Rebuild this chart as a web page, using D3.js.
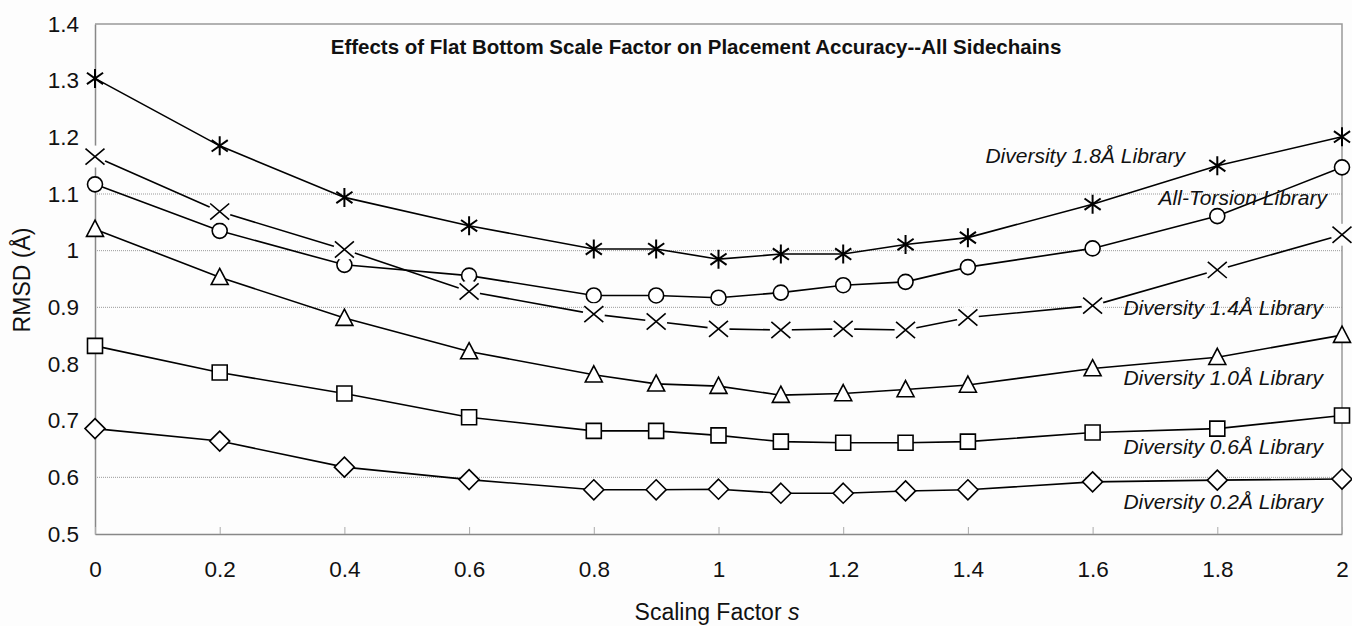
<!DOCTYPE html>
<html>
<head>
<meta charset="utf-8">
<script src="https://cdn.jsdelivr.net/npm/d3@7"></script>
<style>
    body { margin: 0; background: #fdfdfd; }
    text { font-family: "Liberation Sans", Arial, sans-serif; fill: #111; }
</style>
</head>
<body>
<div id="chart"></div>
<script>
// scaling factor s
const scaleFactors = [0, 0.2, 0.4, 0.6, 0.8, 0.9, 1.0, 1.1, 1.2, 1.3, 1.4, 1.6, 1.8, 2.0]

// RMSD (Å) per library
const diversity18 = [1.304, 1.185, 1.094, 1.044, 1.003, 1.003, 0.985, 0.994, 0.994, 1.011, 1.023, 1.082, 1.150, 1.201]
const allTorsion  = [1.117, 1.035, 0.975, 0.956, 0.921, 0.921, 0.917, 0.926, 0.939, 0.945, 0.971, 1.004, 1.061, 1.147]
const diversity14 = [1.166, 1.069, 1.002, 0.928, 0.888, 0.875, 0.862, 0.860, 0.862, 0.860, 0.882, 0.903, 0.966, 1.028]
const diversity10 = [1.038, 0.953, 0.881, 0.822, 0.781, 0.765, 0.761, 0.745, 0.748, 0.755, 0.763, 0.792, 0.812, 0.851]
const diversity06 = [0.832, 0.785, 0.748, 0.706, 0.682, 0.682, 0.674, 0.663, 0.661, 0.661, 0.663, 0.679, 0.686, 0.709]
const diversity02 = [0.686, 0.664, 0.618, 0.596, 0.578, 0.578, 0.579, 0.572, 0.572, 0.576, 0.578, 0.592, 0.595, 0.597]

const seriesNames = ["Diversity 1.8Å Library", "All-Torsion Library", "Diversity 1.4Å Library",
                     "Diversity 1.0Å Library", "Diversity 0.6Å Library", "Diversity 0.2Å Library"]

const xTicks = [0, 0.2, 0.4, 0.6, 0.8, 1, 1.2, 1.4, 1.6, 1.8, 2]
const yTicks = [0.5, 0.6, 0.7, 0.8, 0.9, 1, 1.1, 1.2, 1.3, 1.4]
const gridValues = [0.6, 0.9, 1.0, 1.1]

const title = "Effects of Flat Bottom Scale Factor on Placement Accuracy--All Sidechains"

let width = 1352, height = 626
let margin = {top: 24, right: 10, bottom: 92, left: 95}

let svg = d3.select("#chart")
    .append("svg")
    .attr("width", width)
    .attr("height", height)

svg.append("rect")
    .attr("width", width)
    .attr("height", height)
    .attr("fill", "#fdfdfd")

const x = d3.scaleLinear()
    .domain([0, 2])
    .range([margin.left, width - margin.right])

const y = d3.scaleLinear()
    .domain([0.5, 1.4])
    .range([height - margin.bottom, margin.top])

// dotted grid lines
svg.selectAll(".grid")
    .data(gridValues)
    .join("line")
    .attr("class", "grid")
    .attr("x1", x(0)).attr("x2", x(2))
    .attr("y1", d => y(d)).attr("y2", d => y(d))
    .attr("stroke", "#999")
    .attr("stroke-width", 1)
    .attr("stroke-dasharray", "1,1")

// frame top and right
svg.append("path")
    .attr("d", `M${x(0)},${y(1.4)}H${x(2)}V${y(0.5)}`)
    .attr("fill", "none")
    .attr("stroke", "#999")
    .attr("stroke-width", 1.5)

const fmt = d => String(+d.toFixed(1))

let yAxis = svg.append("g")
    .attr("transform", `translate(${x(0)},0)`)
    .call(d3.axisLeft(y).tickValues(yTicks).tickFormat(fmt).tickSize(0).tickPadding(16))
yAxis.select(".domain").attr("stroke", "#888").attr("stroke-width", 1.5)
yAxis.selectAll("text").style("font-size", "22.5px").attr("fill", "#111")

let xAxis = svg.append("g")
    .attr("transform", `translate(0,${y(0.5)})`)
    .call(d3.axisBottom(x).tickValues(xTicks).tickFormat(fmt).tickSizeInner(-7).tickSizeOuter(0).tickPadding(27))
xAxis.select(".domain").attr("stroke", "#888").attr("stroke-width", 1.5)
xAxis.selectAll(".tick line").attr("stroke", "#aaa")
xAxis.selectAll("text").style("font-size", "22.5px").attr("fill", "#111")

// axis titles
svg.append("text")
    .attr("transform", `translate(30,280) rotate(-90)`)
    .attr("text-anchor", "middle")
    .style("font-size", "23px")
    .text("RMSD (Å)")

let xTitle = svg.append("text")
    .attr("x", 717)
    .attr("y", 620)
    .attr("text-anchor", "middle")
    .style("font-size", "23px")
xTitle.append("tspan").text("Scaling Factor ")
xTitle.append("tspan").style("font-style", "italic").text("s")

svg.append("text")
    .attr("x", 696)
    .attr("y", 54)
    .attr("text-anchor", "middle")
    .style("font-size", "20.5px")
    .style("font-weight", "bold")
    .text(title)

// marker shapes
const star = {draw(ctx, size) {
    let r = Math.sqrt(size) / 2
    ctx.moveTo(0, -r); ctx.lineTo(0, r)
    ctx.moveTo(-r * 0.85, -r * 0.6); ctx.lineTo(r * 0.85, r * 0.6)
    ctx.moveTo(-r * 0.85, r * 0.6); ctx.lineTo(r * 0.85, -r * 0.6)
}}
const cross = {draw(ctx, size) {
    let r = Math.sqrt(size) / 2
    ctx.moveTo(-r, -r * 0.85); ctx.lineTo(r, r * 0.85)
    ctx.moveTo(-r, r * 0.85); ctx.lineTo(r, -r * 0.85)
}}
const tri = {draw(ctx, size) {
    let r = Math.sqrt(size) / 2
    ctx.moveTo(0, -r * 1.05); ctx.lineTo(r, r * 0.85); ctx.lineTo(-r, r * 0.85); ctx.closePath()
}}
const diamond = {draw(ctx, size) {
    let r = Math.sqrt(size) / 2
    ctx.moveTo(0, -r); ctx.lineTo(r, 0); ctx.lineTo(0, r); ctx.lineTo(-r, 0); ctx.closePath()
}}
const square = {draw(ctx, size) {
    let r = Math.sqrt(size) / 2
    ctx.rect(-r, -r, 2 * r, 2 * r)
}}
const circle = {draw(ctx, size) {
    let r = Math.sqrt(size) / 2
    ctx.moveTo(r, 0); ctx.arc(0, 0, r, 0, 2 * Math.PI)
}}

let series = [
    {values: diversity18, shape: star, size: 19 * 19, gap: 0, sw: 2},
    {values: allTorsion, shape: circle, size: 15 * 15, gap: 0, sw: 1.6},
    {values: diversity14, shape: cross, size: 19 * 19, gap: 11, sw: 1.6},
    {values: diversity10, shape: tri, size: 17 * 17, gap: 0, sw: 1.6},
    {values: diversity06, shape: square, size: 15 * 15, gap: 0, sw: 1.6},
    {values: diversity02, shape: diamond, size: 20 * 20, gap: 0, sw: 1.6}
]

const line = d3.line()
    .x(d => x(d[0]))
    .y(d => y(d[1]))

series.forEach(function(s) {
    let pts = scaleFactors.map((sf, i) => [sf, s.values[i]])
    let g = svg.append("g")
    g.append("path")
        .datum(pts)
        .attr("d", line)
        .attr("fill", "none")
        .attr("stroke", "#000")
        .attr("stroke-width", 1.6)
    if (s.gap > 0) {
        g.selectAll(".gap")
            .data(pts)
            .join("circle")
            .attr("cx", d => x(d[0]))
            .attr("cy", d => y(d[1]))
            .attr("r", s.gap)
            .attr("fill", "#fdfdfd")
    }
    g.selectAll(".marker")
        .data(pts)
        .join("path")
        .attr("transform", d => `translate(${x(d[0])},${y(d[1])})`)
        .attr("d", d3.symbol(s.shape, s.size))
        .attr("fill", "#fff")
        .attr("stroke", "#000")
        .attr("stroke-width", s.sw)
})

// series labels
let labelPos = [[1185, 163], [1327, 205], [1323, 315], [1323, 385], [1323, 454], [1323, 509]]
svg.selectAll(".label")
    .data(seriesNames)
    .join("text")
    .attr("class", "label")
    .attr("x", (d, i) => labelPos[i][0])
    .attr("y", (d, i) => labelPos[i][1])
    .attr("text-anchor", "end")
    .style("font-size", "21px")
    .style("font-style", "italic")
    .text(d => d)
</script>
</body>
</html>
